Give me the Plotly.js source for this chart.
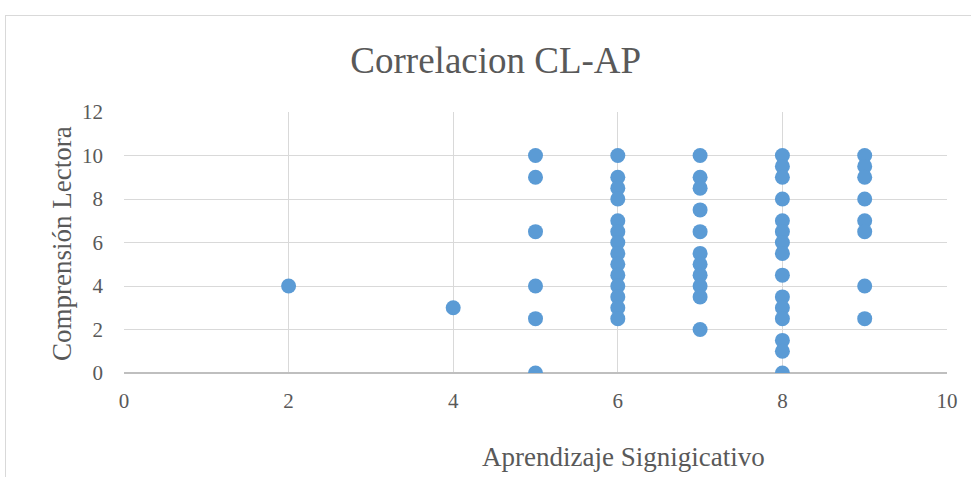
<!DOCTYPE html>
<html>
<head>
<meta charset="utf-8">
<script src="https://cdn.plot.ly/plotly-3.0.1.min.js"></script>
<style>
html,body{margin:0;padding:0;background:#fff;overflow:hidden;}
#frame{position:absolute;left:5px;top:15px;width:980px;height:480px;border-left:1px solid #d9d9d9;border-top:1px solid #d9d9d9;}
#chart{position:absolute;left:0;top:0;width:966px;height:462px;}
</style>
</head>
<body>
<div id="frame"><div id="chart"></div></div>
<script>
// Aprendizaje Significativo (x) vs Comprensión Lectora (y)
const aprendizaje = [
  2,
  4,
  5,5,5,5,5,5,
  6,6,6,6,6,6,6,6,6,6,6,6,6,6,
  7,7,7,7,7,7,7,7,7,7,7,
  8,8,8,8,8,8,8,8,8,8,8,8,8,8,8,
  9,9,9,9,9,9,9,9
];
const comprension = [
  4,
  3,
  10,9,6.5,4,2.5,0,
  10,9,8.5,8,7,6.5,6,5.5,5,4.5,4,3.5,3,2.5,
  10,9,8.5,7.5,6.5,5.5,5,4.5,4,3.5,2,
  10,9.5,9,8,7,6.5,6,5.5,4.5,3.5,3,2.5,1.5,1,0,
  10,9.5,9,8,7,6.5,4,2.5
];
const xTicks = [0,2,4,6,8,10];
const yTicks = [0,2,4,6,8,10,12];

const font = "Liberation Serif, Times New Roman, serif";
const textColor = "#595959";

Plotly.newPlot("chart", [{
  type: "scatter",
  mode: "markers",
  x: aprendizaje,
  y: comprension,
  marker: {color: "#5b9bd5", size: 15},
  hoverinfo: "x+y"
}], {
  width: 966, height: 462,
  margin: {l: 118, r: 25, t: 96, b: 105},
  paper_bgcolor: "#fff", plot_bgcolor: "#fff",
  showlegend: false,
  font: {family: font, color: textColor},
  title: {text: "Correlacion CL-AP", font: {family: font, size: 37, color: textColor},
          x: 0.507, xanchor: "center", y: 0.905, yanchor: "middle"},
  xaxis: {
    range: [0, 10], tickvals: xTicks, ticktext: xTicks.map(String),
    showgrid: true, gridcolor: "#d9d9d9", gridwidth: 1,
    zeroline: false, showline: false,
    tickfont: {family: font, size: 21, color: textColor},
    ticks: "", ticklabelstandoff: 13
  },
  yaxis: {
    range: [0, 12], tickvals: yTicks, ticktext: yTicks.map(String),
    showgrid: true, gridcolor: "#d9d9d9", gridwidth: 1,
    zeroline: true, zerolinecolor: "#bfbfbf", zerolinewidth: 1.5, showline: false,
    tickfont: {family: font, size: 21, color: textColor},
    ticks: "", ticklabelstandoff: 20
  },
  annotations: [
    {text: "Aprendizaje Signigicativo", xref: "paper", yref: "paper",
     x: (623 - 124) / (947 - 124), y: -(457 - 373) / (373 - 112), xanchor: "center", yanchor: "middle",
     showarrow: false, font: {family: font, size: 27, color: textColor}},
    {text: "Comprensión Lectora", xref: "paper", yref: "paper",
     x: (62 - 124) / (947 - 124), y: (373 - 244) / (373 - 112), xanchor: "center", yanchor: "middle",
     textangle: -90, showarrow: false, font: {family: font, size: 27, color: textColor}}
  ]
}, {displayModeBar: false, staticPlot: true});
</script>
</body>
</html>
